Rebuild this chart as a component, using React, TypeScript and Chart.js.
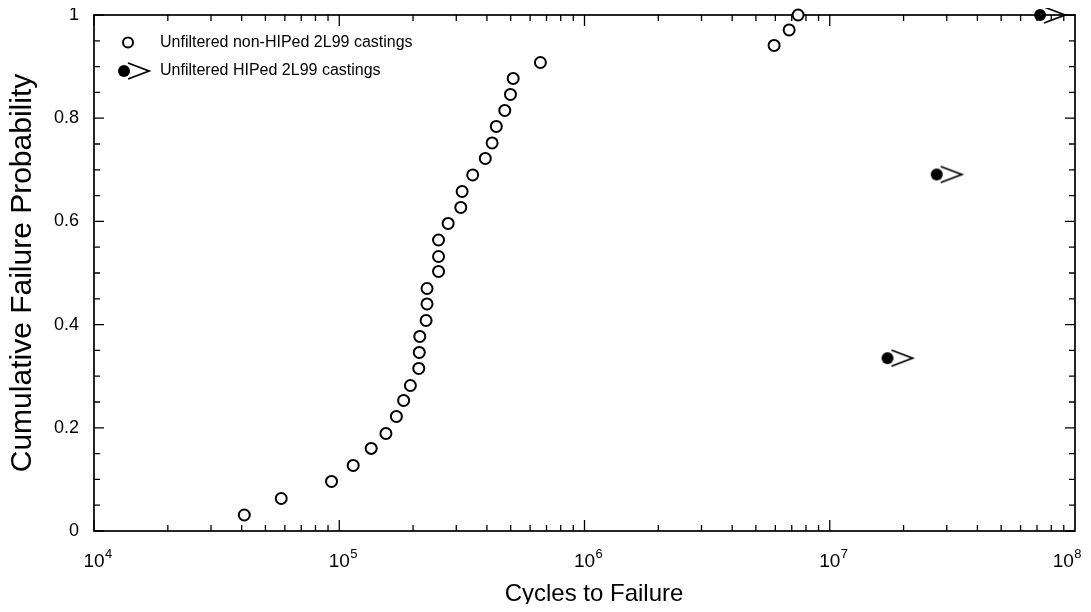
import React, { useEffect, useRef } from 'react';
import { Chart, registerables } from 'chart.js';

Chart.register(...registerables);

// ---- Data ----
const nonHipedCycles = [
  41000, 58000, 93000, 114000, 135000, 155000, 171000, 183000, 195000, 211000,
  212000, 213000, 226000, 228000, 228000, 254000, 254000, 254000, 278000, 313000,
  317000, 350000, 394000, 420000, 437000, 473000, 499000, 512000, 661000, 5930000,
  6830000, 7430000,
];
const nonHipedProb = [
  0.031, 0.063, 0.096, 0.127, 0.160, 0.189, 0.222, 0.253, 0.282, 0.315,
  0.346, 0.377, 0.408, 0.440, 0.470, 0.503, 0.532, 0.564, 0.596, 0.627,
  0.658, 0.690, 0.722, 0.752, 0.784, 0.815, 0.846, 0.877, 0.908, 0.941,
  0.971, 1.0,
];
const hipedCycles = [17200000, 27300000, 72000000];
const hipedProb = [0.335, 0.691, 1.0];

const seriesLabels = ['Unfiltered non-HIPed 2L99 castings', 'Unfiltered HIPed 2L99 castings'];
const xTickValues = [1e4, 1e5, 1e6, 1e7, 1e8];
const xTickBase = ['10', '10', '10', '10', '10'];
const xTickExp = ['4', '5', '6', '7', '8'];
const yTickValues = [0, 0.2, 0.4, 0.6, 0.8, 1];
const yTickLabels = ['0', '0.2', '0.4', '0.6', '0.8', '1'];
const xTitle = 'Cycles to Failure';
const yTitle = 'Cumulative Failure Probability';

const FONT = '"Liberation Sans", Arial, Helvetica, sans-serif';

function makeRunoutMarker(): HTMLCanvasElement {
  const c = document.createElement('canvas');
  c.width = 60;
  c.height = 22;
  const ctx = c.getContext('2d')!;
  const cx = 30;
  const cy = 11;
  ctx.fillStyle = '#000';
  ctx.beginPath();
  ctx.arc(cx, cy, 6, 0, Math.PI * 2);
  ctx.fill();
  ctx.strokeStyle = '#000';
  ctx.lineWidth = 1.8;
  ctx.lineJoin = 'miter';
  ctx.beginPath();
  ctx.moveTo(cx + 4, cy - 8);
  ctx.lineTo(cx + 25, cy);
  ctx.lineTo(cx + 4, cy + 8);
  ctx.stroke();
  return c;
}

const decorPlugin = {
  id: 'decor',
  beforeDatasetsDraw(chart: any) {
    const { ctx, chartArea: a, scales } = chart;
    const x = scales.x;
    const y = scales.y;
    ctx.save();
    ctx.strokeStyle = '#000';
    ctx.lineWidth = 1.7;
    ctx.strokeRect(a.left, a.top, a.right - a.left, a.bottom - a.top);
    ctx.lineWidth = 1.3;
    ctx.beginPath();
    for (let d = 4; d < 8; d++) {
      for (let m = 1; m <= 9; m++) {
        const v = m * Math.pow(10, d);
        const px = x.getPixelForValue(v);
        const len = m === 1 ? 11 : 6;
        ctx.moveTo(px, a.bottom);
        ctx.lineTo(px, a.bottom - len);
        ctx.moveTo(px, a.top);
        ctx.lineTo(px, a.top + len);
      }
    }
    for (let k = 0; k <= 20; k++) {
      const py = y.getPixelForValue(k * 0.05);
      const len = k % 4 === 0 ? 10 : 6;
      ctx.moveTo(a.left, py);
      ctx.lineTo(a.left + len, py);
      ctx.moveTo(a.right, py);
      ctx.lineTo(a.right - len, py);
    }
    ctx.stroke();
    ctx.restore();
  },
  afterDraw(chart: any) {
    const { ctx, chartArea: a, scales, width } = chart;
    const x = scales.x;
    ctx.save();
    ctx.fillStyle = '#000';
    // x tick labels with superscript exponents
    ctx.textBaseline = 'alphabetic';
    ctx.textAlign = 'left';
    xTickValues.forEach((v, i) => {
      const px = x.getPixelForValue(v);
      ctx.font = `19px ${FONT}`;
      const wb = ctx.measureText(xTickBase[i]).width;
      ctx.font = `13px ${FONT}`;
      const we = ctx.measureText(xTickExp[i]).width;
      let start = px - wb / 2;
      start = Math.min(start, width - wb - we - 10);
      ctx.font = `19px ${FONT}`;
      ctx.fillText(xTickBase[i], start, a.bottom + 36);
      ctx.font = `13px ${FONT}`;
      ctx.fillText(xTickExp[i], start + wb + 0.5, a.bottom + 27);
    });
    // x title
    ctx.font = `24px ${FONT}`;
    ctx.textAlign = 'center';
    ctx.textBaseline = 'middle';
    ctx.fillText(xTitle, 594, a.bottom + 63);

    // legend
    const ds = chart.data.datasets;
    ctx.textAlign = 'left';
    ctx.font = `16px ${FONT}`;
    const r1y = a.top + 27.5;
    ctx.strokeStyle = '#000';
    ctx.lineWidth = 2;
    ctx.beginPath();
    ctx.arc(a.left + 34, r1y, 5, 0, Math.PI * 2);
    ctx.stroke();
    ctx.fillText(ds[0].label, a.left + 66, r1y);
    const r2y = a.top + 56;
    const img = ds[1].pointStyle as HTMLCanvasElement;
    ctx.drawImage(img, a.left + 30 - img.width / 2, r2y - img.height / 2);
    ctx.fillText(ds[1].label, a.left + 66, r2y);
    ctx.restore();
  },
};

export default function App() {
  const ref = useRef<HTMLCanvasElement>(null);
  useEffect(() => {
    const marker = makeRunoutMarker();
    const chart = new Chart(ref.current!, {
      type: 'scatter',
      data: {
        datasets: [
          {
            label: seriesLabels[0],
            data: nonHipedCycles.map((c, i) => ({ x: c, y: nonHipedProb[i] })),
            pointStyle: 'circle',
            pointRadius: 5.5,
            pointBorderWidth: 2,
            pointBorderColor: '#000',
            pointBackgroundColor: '#fff',
            clip: false,
          } as any,
          {
            label: seriesLabels[1],
            data: hipedCycles.map((c, i) => ({ x: c, y: hipedProb[i] })),
            pointStyle: marker,
            pointRadius: 6,
            clip: false,
          } as any,
        ],
      },
      options: {
        animation: false,
        responsive: true,
        maintainAspectRatio: false,
        events: [],
        layout: { padding: { left: 0, right: 16, top: 15, bottom: 0 } },
        plugins: { legend: { display: false }, tooltip: { enabled: false } },
        scales: {
          x: {
            type: 'logarithmic',
            min: 1e4,
            max: 1e8,
            grid: { display: false },
            border: { display: false },
            ticks: { display: false },
            title: { display: false },
            afterFit: (s: any) => {
              s.height = 81;
            },
          } as any,
          y: {
            type: 'linear',
            min: 0,
            max: 1,
            grid: { display: false, drawTicks: false },
            border: { display: false },
            afterBuildTicks: (s: any) => {
              s.ticks = yTickValues.map((v) => ({ value: v }));
            },
            ticks: {
              callback: (v: any) => {
                const i = yTickValues.indexOf(Number(v));
                return i >= 0 ? yTickLabels[i] : '';
              },
              font: { family: FONT, size: 18 },
              color: '#000',
              padding: 15,
            },
            title: {
              display: true,
              text: yTitle,
              color: '#000',
              font: { family: FONT, size: 30, lineHeight: 1 },
              padding: { top: 8, bottom: 0 },
            },
            afterFit: (s: any) => {
              s.width = 94;
              s.paddingTop = 0;
              s.paddingBottom = 0;
            },
          } as any,
        },
      },
      plugins: [decorPlugin],
    });
    return () => chart.destroy();
  }, []);
  return (
    <div style={{ position: 'relative', width: 1091, height: 612, margin: -8 }}>
      <canvas ref={ref} />
    </div>
  );
}
